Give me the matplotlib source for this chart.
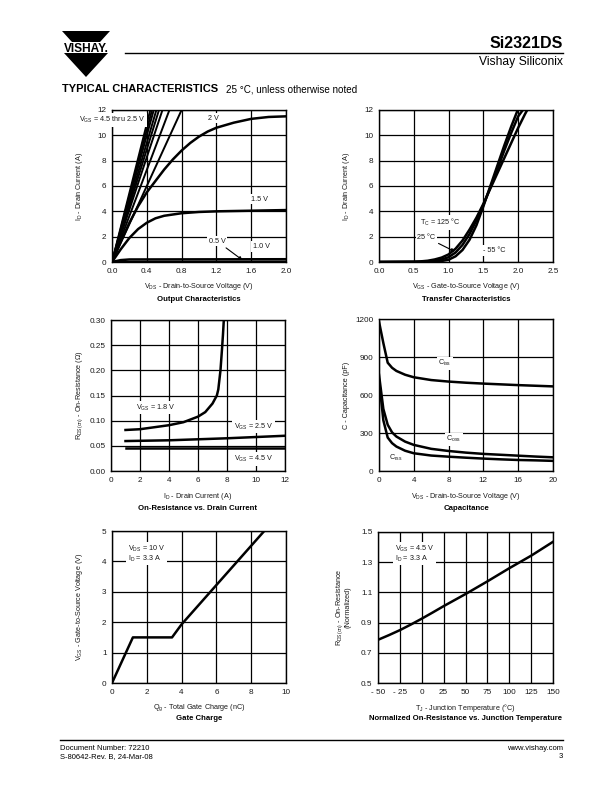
import matplotlib
matplotlib.use("Agg")
import matplotlib.pyplot as plt
from matplotlib.patches import Polygon
from matplotlib.lines import Line2D

plt.rcParams['font.family'] = ['Liberation Sans', 'DejaVu Sans']
plt.rcParams['mathtext.fontset'] = 'custom'
plt.rcParams['mathtext.rm'] = 'Liberation Sans'
plt.rcParams['mathtext.it'] = 'Liberation Sans'
plt.rcParams['mathtext.bf'] = 'Liberation Sans:bold'

# ---------------- data ----------------
# Output characteristics
out_steep_vds_at_12A = [0.44, 0.46, 0.48, 0.51, 0.54, 0.58, 0.66, 0.80]   # VGS = 4.5 thru 2.5 V
out_2v_vds = [0, 0.1, 0.2, 0.3, 0.4, 0.5, 0.6, 0.7, 0.8, 0.9, 1.0, 1.1, 1.2, 1.4, 1.6, 1.8, 2.0]
out_2v_id = [0, 1.6, 3.1, 4.4, 5.5, 6.4, 7.3, 8.1, 8.8, 9.4, 9.9, 10.3, 10.6, 11.0, 11.3, 11.45, 11.5]
out_15v_vds = [0, 0.1, 0.2, 0.3, 0.4, 0.5, 0.6, 0.8, 1.0, 1.2, 1.6, 2.0]
out_15v_id = [0, 1.0, 1.9, 2.6, 3.1, 3.45, 3.65, 3.85, 3.95, 4.0, 4.05, 4.1]
out_10v_vds = [0, 0.1, 0.2, 2.0]
out_10v_id = [0, 0.15, 0.2, 0.22]
out_05v_vds = [0, 2.0]
out_05v_id = [0, 0.02]

# Transfer characteristics
tr_125_vgs = [0.0, 0.5, 0.6, 0.7, 0.8, 0.9, 1.0, 1.1, 1.2, 1.3, 1.4, 1.5, 1.6, 1.7, 1.8, 1.9, 2.0, 2.1, 2.14]
tr_125_id = [0, 0.02, 0.05, 0.1, 0.2, 0.35, 0.6, 1.05, 1.7, 2.55, 3.5, 4.6, 5.8, 7.0, 8.2, 9.4, 10.6, 11.7, 12.1]
tr_25_vgs = [0.0, 0.6, 0.7, 0.8, 0.9, 1.0, 1.1, 1.2, 1.3, 1.4, 1.5, 1.6, 1.7, 1.8, 1.9, 2.0, 2.08]
tr_25_id = [0, 0.02, 0.05, 0.1, 0.2, 0.38, 0.75, 1.35, 2.2, 3.3, 4.5, 5.9, 7.3, 8.8, 10.2, 11.5, 12.1]
tr_m55_vgs = [0.0, 0.7, 0.8, 0.9, 1.0, 1.1, 1.2, 1.3, 1.4, 1.5, 1.6, 1.7, 1.8, 1.9, 2.0]
tr_m55_id = [0, 0, 0.03, 0.08, 0.18, 0.45, 0.95, 1.75, 2.9, 4.4, 6.0, 7.6, 9.2, 10.7, 12.1]

# On-resistance vs drain current
ron_18_id = [1, 2, 3, 4, 5, 6, 6.5, 7, 7.3, 7.4, 7.55, 7.65, 7.72, 7.78]
ron_18_r = [0.0815, 0.083, 0.087, 0.091, 0.097, 0.108, 0.117, 0.134, 0.150, 0.162, 0.20, 0.24, 0.27, 0.30]
ron_25_id = [1, 4, 8, 12]
ron_25_r = [0.0595, 0.061, 0.065, 0.070]
ron_45_id = [1, 12]
ron_45_r = [0.0455, 0.0455]

# Capacitance
cap_vds = [0, 0.5, 1, 1.5, 2, 3, 4, 6, 8, 10, 12, 14, 16, 18, 20]
cap_ciss = [1180, 1010, 855, 815, 790, 760, 740, 718, 706, 697, 690, 684, 678, 673, 668]
cap_coss = [760, 490, 365, 305, 272, 232, 206, 175, 158, 145, 135, 128, 121, 114, 108]
cap_crss = [720, 400, 264, 220, 193, 160, 140, 122, 113, 105, 98, 92, 87, 84, 80]

# Gate charge
qg_nc = [0, 1.2, 3.45, 4.0, 8.75]
qg_vgs = [0, 1.5, 1.5, 1.93, 5.0]

# Normalized on-resistance vs junction temperature
tj_c = [-50, -37.5, -25, -12.5, 0, 12.5, 25, 50, 75, 100, 125, 150]
rnorm = [0.786, 0.817, 0.850, 0.887, 0.926, 0.967, 1.009, 1.089, 1.173, 1.26, 1.343, 1.435]

# tick labels
tj_ticklabels = ['- 50', '- 25', '0', '25', '50', '75', '100', '125', '150']

# ---------------- figure ----------------
W, H = 612, 792
fig = plt.figure(figsize=(W / 100, H / 100), dpi=100)

def rect(l, t, w, h):
    return [l / W, 1 - (t + h) / H, w / W, h / H]

def fx(x):
    return x / W

def fy(y):
    return 1 - y / H

TICK_FS = 5.9
LAB_FS = 5.2
TITLE_FS = 5.6
CURVE_LW = 1.8
TXT_COL = '#1a1a1a'

def style(ax, xlim, ylim, xticks, yticks, xfmt, yfmt, xlabels=None):
    ax.set_xlim(*xlim)
    ax.set_ylim(*ylim)
    ax.set_xticks(xticks)
    ax.set_yticks(yticks)
    if xlabels is None:
        ax.set_xticklabels([xfmt.format(v) for v in xticks])
    else:
        ax.set_xticklabels(xlabels)
    ax.set_yticklabels([yfmt.format(v) for v in yticks])
    ax.tick_params(length=0, labelsize=TICK_FS, labelcolor=TXT_COL, pad=4)
    ax.grid(True, color='black', linewidth=0.9)
    ax.set_axisbelow(True)
    for s in ax.spines.values():
        s.set_linewidth(1.0)
        s.set_color('black')

def labels(ax_rect_px, xlabel, ylabel, title, xl_y, t_y, yl_x):
    l, t, w, h = ax_rect_px
    cx = l + w / 2
    fig.text(fx(cx), fy(xl_y), xlabel, ha='center', va='center', fontsize=LAB_FS, color=TXT_COL)
    fig.text(fx(cx), fy(t_y), title, ha='center', va='center', fontsize=TITLE_FS,
             fontweight='bold', color='black')
    fig.text(fx(yl_x), fy(t + h / 2), ylabel, ha='center', va='center', fontsize=LAB_FS,
             rotation=90, color=TXT_COL, multialignment='center', linespacing=1.0)

def lbl(ax, x, y, s, ha='center', **kw):
    ax.text(x, y, s, ha=ha, va='center', fontsize=LAB_FS, color=TXT_COL, zorder=6,
            bbox=dict(facecolor='white', edgecolor='none', pad=1.2), **kw)

# ---- 1: Output characteristics
r1 = (112, 110, 174, 152)
ax1 = fig.add_axes(rect(*r1))
style(ax1, (0, 2.0), (0, 12), [0, 0.4, 0.8, 1.2, 1.6, 2.0], [0, 2, 4, 6, 8, 10, 12], '{:.1f}', '{:d}')
for v in out_steep_vds_at_12A:
    ax1.plot([0, v], [0, 12], color='black', lw=1.4, solid_capstyle='butt')
ax1.plot(out_2v_vds, out_2v_id, color='black', lw=CURVE_LW)
ax1.plot(out_15v_vds, out_15v_id, color='black', lw=CURVE_LW)
ax1.plot(out_10v_vds, out_10v_id, color='black', lw=CURVE_LW)
ax1.plot(out_05v_vds, out_05v_id, color='black', lw=CURVE_LW)
lbl(ax1, 0.0, 11.2, 'V$_{\\mathrm{GS}}$ = 4.5 thru 2.5 V', clip_on=False)
lbl(ax1, 1.17, 11.35, '2 V')
lbl(ax1, 1.69, 4.96, '1.5 V')
lbl(ax1, 1.72, 1.23, '1.0 V')
ax1.annotate('0.5 V', xy=(1.5, 0.15), xytext=(1.21, 1.63), ha='center', va='center',
             fontsize=LAB_FS, color=TXT_COL, zorder=6,
             bbox=dict(facecolor='white', edgecolor='none', pad=1.0),
             arrowprops=dict(arrowstyle='-|>', color='black', lw=0.8, mutation_scale=5,
                             shrinkA=2, shrinkB=0))
labels(r1, 'V$_{\\mathrm{DS}}$ - Drain-to-Source Voltage (V)', 'I$_{\\mathrm{D}}$ - Drain Current (A)',
       'Output Characteristics', 286, 299, 79)

# ---- 2: Transfer characteristics
r2 = (379, 110, 174, 152)
ax2 = fig.add_axes(rect(*r2))
style(ax2, (0, 2.5), (0, 12), [0, 0.5, 1.0, 1.5, 2.0, 2.5], [0, 2, 4, 6, 8, 10, 12], '{:.1f}', '{:d}')
ax2.plot(tr_125_vgs, tr_125_id, color='black', lw=CURVE_LW)
ax2.plot(tr_25_vgs, tr_25_id, color='black', lw=CURVE_LW)
ax2.plot(tr_m55_vgs, tr_m55_id, color='black', lw=CURVE_LW)
lbl(ax2, 0.875, 3.1, 'T$_{\\mathrm{C}}$ = 125 °C')
ax2.annotate('25 °C', xy=(1.09, 0.82), xytext=(0.68, 1.95), ha='center', va='center',
             fontsize=LAB_FS, color=TXT_COL, zorder=6,
             bbox=dict(facecolor='white', edgecolor='none', pad=1.0),
             arrowprops=dict(arrowstyle='-|>', color='black', lw=0.8, mutation_scale=5,
                             shrinkA=2, shrinkB=0))
lbl(ax2, 1.65, 0.92, '- 55 °C')
labels(r2, 'V$_{\\mathrm{GS}}$ - Gate-to-Source Voltage (V)', 'I$_{\\mathrm{D}}$ - Drain Current (A)',
       'Transfer Characteristics', 286, 299, 346)

# ---- 3: On-resistance vs drain current
r3 = (111, 320, 174, 151)
ax3 = fig.add_axes(rect(*r3))
style(ax3, (0, 12), (0, 0.30), [0, 2, 4, 6, 8, 10, 12], [0, 0.05, 0.10, 0.15, 0.20, 0.25, 0.30],
      '{:d}', '{:.2f}')
ax3.plot(ron_18_id, ron_18_r, color='black', lw=CURVE_LW)
ax3.plot(ron_25_id, ron_25_r, color='black', lw=CURVE_LW)
ax3.plot(ron_45_id, ron_45_r, color='black', lw=CURVE_LW)
lbl(ax3, 3.1, 0.126, 'V$_{\\mathrm{GS}}$ = 1.8 V')
lbl(ax3, 9.85, 0.088, 'V$_{\\mathrm{GS}}$ = 2.5 V')
lbl(ax3, 9.85, 0.024, 'V$_{\\mathrm{GS}}$ = 4.5 V')
labels(r3, 'I$_{\\mathrm{D}}$ - Drain Current (A)', 'R$_{\\mathrm{DS(on)}}$ - On-Resistance (Ω)',
       'On-Resistance vs. Drain Current', 497, 509, 80)

# ---- 4: Capacitance
r4 = (379, 319, 174, 152)
ax4 = fig.add_axes(rect(*r4))
style(ax4, (0, 20), (0, 1200), [0, 4, 8, 12, 16, 20], [0, 300, 600, 900, 1200], '{:d}', '{:d}')
ax4.plot(cap_vds, cap_ciss, color='black', lw=CURVE_LW)
ax4.plot(cap_vds, cap_coss, color='black', lw=CURVE_LW)
ax4.plot(cap_vds, cap_crss, color='black', lw=CURVE_LW)
lbl(ax4, 7.6, 850, 'C$_{\\mathrm{iss}}$')
lbl(ax4, 8.6, 250, 'C$_{\\mathrm{oss}}$')
lbl(ax4, 1.9, 100, 'C$_{\\mathrm{rss}}$')
labels(r4, 'V$_{\\mathrm{DS}}$ - Drain-to-Source Voltage (V)', 'C - Capacitance (pF)',
       'Capacitance', 497, 509, 346)

# ---- 5: Gate charge
r5 = (112, 531, 174, 152)
ax5 = fig.add_axes(rect(*r5))
style(ax5, (0, 10), (0, 5), [0, 2, 4, 6, 8, 10], [0, 1, 2, 3, 4, 5], '{:d}', '{:d}')
ax5.plot(qg_nc, qg_vgs, color='black', lw=CURVE_LW)
lbl(ax5, 0.92, 4.25, 'V$_{\\mathrm{DS}}$ = 10 V\nI$_{\\mathrm{D}}$ = 3.3 A', ha='left', linespacing=0.95)
labels(r5, 'Q$_{\\mathrm{g}}$ - Total Gate Charge (nC)', 'V$_{\\mathrm{GS}}$ - Gate-to-Source Voltage (V)',
       'Gate Charge', 708, 719, 79)

# ---- 6: Normalized on-resistance vs junction temperature
r6 = (378, 532, 175, 151)
ax6 = fig.add_axes(rect(*r6))
style(ax6, (-50, 150), (0.5, 1.5), [-50, -25, 0, 25, 50, 75, 100, 125, 150],
      [0.5, 0.7, 0.9, 1.1, 1.3, 1.5], '{:d}', '{:.1f}', xlabels=tj_ticklabels)
ax6.plot(tj_c, rnorm, color='black', lw=CURVE_LW)
lbl(ax6, -30.8, 1.357, 'V$_{\\mathrm{GS}}$ = 4.5 V\nI$_{\\mathrm{D}}$ = 3.3 A', ha='left', linespacing=0.95)
labels(r6, 'T$_{\\mathrm{J}}$ - Junction Temperature (°C)',
       'R$_{\\mathrm{DS(on)}}$ - On-Resistance\n(Normalized)',
       'Normalized On-Resistance vs. Junction Temperature', 708, 719, 343)

# ---------------- header ----------------
fig.patches.append(Polygon([(fx(62), fy(31)), (fx(110), fy(31)), (fx(100), fy(42)), (fx(72), fy(42))],
                           closed=True, facecolor='black', edgecolor='none', transform=fig.transFigure))
fig.patches.append(Polygon([(fx(64), fy(53)), (fx(108), fy(53)), (fx(86), fy(77))],
                           closed=True, facecolor='black', edgecolor='none', transform=fig.transFigure))
fig.text(fx(86), fy(51.5), 'VISHAY.', ha='center', va='baseline', fontsize=8.6, fontweight='heavy',
         color='black')
fig.lines.append(Line2D([fx(125), fx(563)], [fy(53), fy(53)], color='black', lw=1.0,
                        transform=fig.transFigure))
fig.text(fx(563), fy(43), 'Si2321DS', ha='right', va='center', fontsize=11.5, fontweight='bold')
fig.text(fx(563), fy(62), 'Vishay Siliconix', ha='right', va='center', fontsize=8.7)
fig.text(fx(62), fy(89), 'TYPICAL CHARACTERISTICS', ha='left', va='center', fontsize=8.0,
         fontweight='heavy')
fig.text(fx(226), fy(89), '25 °C, unless otherwise noted', ha='left', va='center', fontsize=7.1)

# ---------------- footer ----------------
fig.lines.append(Line2D([fx(60), fx(563)], [fy(740), fy(740)], color='black', lw=1.0,
                        transform=fig.transFigure))
fig.text(fx(60), fy(748), 'Document Number: 72210', ha='left', va='center', fontsize=5.5)
fig.text(fx(60), fy(757), 'S-80642-Rev. B, 24-Mar-08', ha='left', va='center', fontsize=5.5)
fig.text(fx(563), fy(748), 'www.vishay.com', ha='right', va='center', fontsize=5.5)
fig.text(fx(563), fy(757), '3', ha='right', va='center', fontsize=5.5)

fig.savefig('out.png', dpi=100)
